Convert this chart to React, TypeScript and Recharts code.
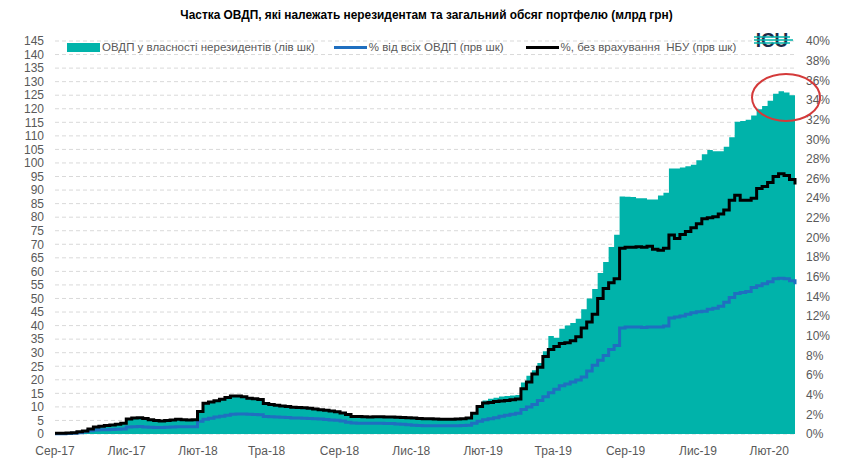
import { Area, CartesianGrid, ComposedChart, Line, XAxis, YAxis } from "recharts";

// weekly points, Aug 2017 - Mar 2020
const nonresVolume = [
  0.3, 0.3, 0.4, 0.5, 0.8, 1.1, 1.8, 2.6, 2.9, 3.1,
  3.3, 3.6, 4.0, 5.5, 5.9, 6.0, 5.7, 5.3, 5.0, 4.8,
  5.0, 5.2, 5.4, 5.3, 5.2, 5.3, 8.3, 11.3, 11.8, 12.3,
  12.8, 13.5, 14.0, 14.0, 13.8, 13.2, 13.0, 12.9, 11.4, 11.0,
  10.6, 10.3, 10.1, 9.9, 9.8, 9.7, 9.5, 9.2, 9.0, 8.8,
  8.5, 8.2, 7.8, 7.2, 6.5, 6.4, 6.4, 6.4, 6.5, 6.4,
  6.3, 6.3, 6.2, 6.1, 6.0, 5.9, 5.7, 5.6, 5.6, 5.5,
  5.5, 5.4, 5.4, 5.5, 5.6, 5.9, 7.5, 10.5, 12.4, 13.0,
  13.4, 13.8, 14.0, 14.2, 14.4, 19.0, 21.5, 23.5, 26.2, 30.5,
  36.2, 35.5, 38.8, 40.0, 41.0, 42.5, 46.0, 50.0, 53.5, 59.4,
  63.5, 69.0, 73.5, 87.6, 87.5, 87.4, 87.0, 87.0, 86.5, 86.5,
  88.0, 89.0, 98.0, 98.0, 98.3, 98.8, 99.3, 101.0, 103.2, 104.8,
  104.3, 104.3, 106.0, 109.5, 115.2, 115.5, 115.9, 117.5, 119.8, 121.0,
  123.0, 125.5, 126.5, 126.0, 125.0, 123.2,
];

const shareAll = [
  0.03, 0.03, 0.05, 0.07, 0.12, 0.24, 0.32, 0.4, 0.42, 0.44,
  0.46, 0.48, 0.5, 0.7, 0.75, 0.76, 0.72, 0.68, 0.66, 0.65,
  0.68, 0.72, 0.75, 0.74, 0.74, 0.75, 1.3, 1.5, 1.6, 1.72,
  1.8, 1.92, 2.0, 2.04, 2.04, 2.0, 1.98, 1.95, 1.78, 1.75,
  1.72, 1.7, 1.67, 1.64, 1.62, 1.6, 1.58, 1.55, 1.52, 1.48,
  1.43, 1.4, 1.32, 1.2, 1.12, 1.1, 1.1, 1.09, 1.1, 1.09,
  1.08, 1.06, 1.02, 0.98, 0.95, 0.9, 0.86, 0.85, 0.85, 0.84,
  0.84, 0.84, 0.84, 0.85, 0.86, 0.9, 1.1, 1.3, 1.45, 1.55,
  1.65, 1.8, 1.9, 2.0, 2.1, 2.5, 2.75, 3.0, 3.4, 3.8,
  4.2, 4.55, 4.9, 5.1, 5.3, 5.5, 5.8, 6.4, 7.0, 7.5,
  8.0, 8.6, 9.0, 10.8, 10.9, 10.9, 10.9, 10.85, 10.9, 10.9,
  10.9, 11.0, 11.8, 11.9, 12.0, 12.2, 12.35, 12.45, 12.5, 12.7,
  12.8, 13.0, 13.4, 13.9, 14.3, 14.4, 14.5, 14.9, 15.1, 15.3,
  15.5, 15.8, 15.85, 15.8, 15.6, 15.25,
];

const shareExNbu = [
  0.08, 0.08, 0.11, 0.14, 0.22, 0.3, 0.5, 0.72, 0.8, 0.86,
  0.91, 0.99, 1.1, 1.52, 1.63, 1.66, 1.57, 1.46, 1.38, 1.32,
  1.38, 1.43, 1.49, 1.46, 1.43, 1.46, 2.29, 3.12, 3.26, 3.39,
  3.53, 3.72, 3.86, 3.86, 3.8, 3.64, 3.59, 3.5, 3.1, 3.0,
  2.92, 2.84, 2.79, 2.73, 2.7, 2.68, 2.62, 2.54, 2.48, 2.43,
  2.34, 2.26, 2.15, 1.99, 1.79, 1.77, 1.76, 1.74, 1.76, 1.76,
  1.74, 1.74, 1.71, 1.68, 1.66, 1.63, 1.57, 1.54, 1.54, 1.52,
  1.5, 1.49, 1.49, 1.52, 1.55, 1.63, 2.1, 2.8, 3.15, 3.2,
  3.3, 3.36, 3.4, 3.48, 3.56, 4.6, 5.3, 6.1, 6.8, 7.9,
  8.6, 8.9, 9.2, 9.3, 9.5, 9.9, 10.8, 11.4, 12.2, 13.8,
  14.8, 15.4, 15.8, 18.9, 19.0, 19.0, 19.05, 19.0, 19.1, 18.8,
  18.7, 18.9, 20.25, 19.9, 20.3, 20.6, 21.0, 21.4, 21.9, 22.0,
  22.1, 22.4, 22.8, 23.8, 24.3, 23.8, 23.8, 24.0, 25.0, 25.2,
  25.6, 26.2, 26.5, 26.3, 25.9, 25.4,
];

// quarter-start tick labels and their position in weeks from 1 Aug 2017
const tickLabels = ["Сер-17", "Лис-17", "Лют-18", "Тра-18", "Сер-18", "Лис-18", "Лют-19", "Тра-19", "Сер-19", "Лис-19", "Лют-20"];
const tickWeeks = [0, 13.1, 26.1, 38.6, 51.9, 65.0, 78.1, 90.9, 104.1, 117.3, 130.3];

const leftTicks = [0, 5, 10, 15, 20, 25, 30, 35, 40, 45, 50, 55, 60, 65, 70, 75, 80, 85, 90, 95, 100, 105, 110, 115, 120, 125, 130, 135, 140, 145];
const rightTicks = [0, 2, 4, 6, 8, 10, 12, 14, 16, 18, 20, 22, 24, 26, 28, 30, 32, 34, 36, 38, 40];

const data = nonresVolume.map((v, i) => ({ week: i, volume: v, shareAll: shareAll[i], shareExNbu: shareExNbu[i] }));

const TEAL = "#00b3aa";
const BLUE = "#1f6fc0";
const font = "'Liberation Sans', Arial, sans-serif";
const tickStyle = { fill: "#595959", fontSize: 12, fontFamily: font };

export default function App() {
  return (
    <div style={{ position: "absolute", left: 0, top: 0, width: 849, height: 473, background: "#fff" }}>
      <div
        style={{
          position: "absolute", left: 0, top: 7, width: 849, textAlign: "center",
          fontFamily: font, fontWeight: "bold", fontSize: 13.5, color: "#000",
          transform: "scaleX(0.88)", transformOrigin: "441px 0",
        }}
      >
        Частка ОВДП, які належать нерезидентам та загальний обсяг портфелю (млрд грн)
      </div>
      <ComposedChart width={849} height={473} data={data} margin={{ top: 41, right: 0, bottom: 0, left: 0 }}>
        <CartesianGrid yAxisId="left" vertical={false} stroke="#d9d9d9" strokeDasharray="4 3" />
        <XAxis
          dataKey="week" type="number" domain={[0, 135]} ticks={tickWeeks} interval={0}
          tickFormatter={(v: number) => tickLabels[tickWeeks.indexOf(v)]}
          axisLine={false} tickLine={false} tickSize={0} tickMargin={12} height={39} tick={tickStyle}
        />
        <YAxis
          yAxisId="left" domain={[0, 145]} ticks={leftTicks} interval={0} width={55}
          axisLine={false} tickLine={false} tickSize={0} tickMargin={11} tick={tickStyle}
        />
        <YAxis
          yAxisId="right" orientation="right" domain={[0, 40]} ticks={rightTicks} interval={0} width={54}
          tickFormatter={(v: number) => `${v}%`}
          axisLine={false} tickLine={false} tickSize={0} tickMargin={11} tick={tickStyle}
        />
        <Area yAxisId="left" type="stepAfter" dataKey="volume" fill={TEAL} fillOpacity={1} stroke="none" isAnimationActive={false} />
        <Line yAxisId="right" type="stepAfter" dataKey="shareAll" stroke={BLUE} strokeWidth={3} dot={false} isAnimationActive={false} />
        <Line yAxisId="right" type="stepAfter" dataKey="shareExNbu" stroke="#000" strokeWidth={3} dot={false} isAnimationActive={false} />
      </ComposedChart>
      <div style={{ position: "absolute", left: 67, top: 41, display: "flex", alignItems: "center", fontFamily: font, fontSize: 11.5, color: "#595959", whiteSpace: "nowrap" }}>
        <span style={{ display: "inline-block", width: 33, height: 9, background: TEAL, marginRight: 2 }} />
        <span>ОВДП у власності нерезидентів (лів шк)</span>
        <span style={{ display: "inline-block", width: 33, height: 3, background: BLUE, marginLeft: 19, marginRight: 2 }} />
        <span>% від всіх ОВДП (прв шк)</span>
        <span style={{ display: "inline-block", width: 33, height: 3, background: "#000", marginLeft: 22, marginRight: 2 }} />
        <span>%, без врахування&nbsp; НБУ (прв шк)</span>
      </div>
      <svg width={849} height={473} style={{ position: "absolute", left: 0, top: 0, pointerEvents: "none" }}>
        <text x={772} y={47} textAnchor="middle" fontFamily={font} fontWeight="bold" fontSize={20} fill="#1b2a47" transform="translate(772 0) scale(0.95 1) translate(-772 0)">ICU</text>
        <line x1={754} x2={790} y1={37} y2={37} stroke={TEAL} strokeWidth={1.3} />
        <line x1={754} x2={793} y1={40} y2={40} stroke={TEAL} strokeWidth={1.3} />
        <line x1={754} x2={790} y1={43} y2={43} stroke={TEAL} strokeWidth={1.3} />
        <ellipse cx={786} cy={97.5} rx={34} ry={23.5} fill="none" stroke="#d43a3a" strokeWidth={2} />
      </svg>
    </div>
  );
}
